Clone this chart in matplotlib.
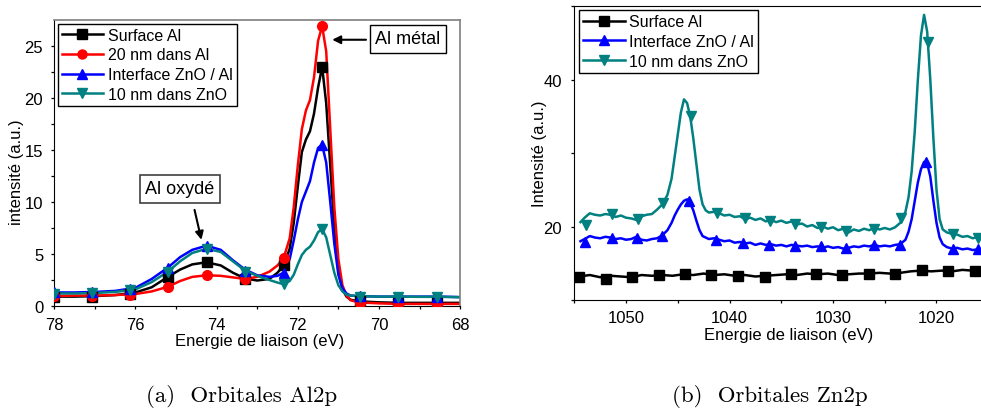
import numpy as np
import matplotlib
matplotlib.use('Agg')
import matplotlib.pyplot as plt

plt.rcParams['font.family'] = ['Liberation Sans', 'DejaVu Sans']

#####---data---#####

# (a) Al2p
al_x = [78.0, 77.5, 77.0, 76.5, 76.0, 75.6, 75.2, 74.9, 74.6, 74.25, 73.9, 73.6, 73.3, 73.0,
        72.7, 72.5, 72.35, 72.2, 72.1, 72.0, 71.9, 71.8, 71.7, 71.6, 71.5, 71.4, 71.3, 71.2,
        71.1, 71.0, 70.9, 70.8, 70.7, 70.5, 70.0, 69.5, 69.0, 68.5, 68.0]
al_surface = [0.9, 0.9, 0.95, 1.05, 1.3, 1.8, 2.8, 3.5, 4.0, 4.2, 3.9, 3.2, 2.65, 2.45,
              2.6, 3.2, 3.9, 5.5, 8.0, 11.5, 14.8, 16.0, 16.8, 18.5, 21.0, 23.0, 19.5, 13.5,
              7.5, 3.3, 1.6, 0.9, 0.6, 0.45, 0.35, 0.3, 0.3, 0.3, 0.3]
al_20nm = [0.95, 1.0, 1.0, 1.05, 1.15, 1.4, 1.85, 2.4, 2.8, 2.95, 2.9, 2.75, 2.6, 2.8,
           3.3, 3.9, 4.6, 6.5, 9.5, 13.5, 17.0, 18.8, 19.8, 22.0, 25.5, 26.9, 24.5, 17.0,
           9.5, 4.5, 2.0, 1.0, 0.55, 0.35, 0.25, 0.2, 0.2, 0.2, 0.2]
al_interface = [1.3, 1.3, 1.35, 1.45, 1.75, 2.6, 3.7, 4.7, 5.4, 5.8, 5.4, 4.4, 3.5, 2.95,
                2.8, 2.9, 3.2, 4.5, 6.3, 8.3, 10.0, 11.0, 12.0, 13.8, 15.2, 15.5, 13.8, 10.0,
                6.0, 3.0, 1.7, 1.2, 1.0, 0.95, 0.9, 0.9, 0.9, 0.9, 0.85]
al_10nm = [1.2, 1.2, 1.25, 1.35, 1.6, 2.3, 3.3, 4.3, 5.1, 5.5, 5.2, 4.3, 3.4, 2.9,
           2.5, 2.25, 2.1, 2.4, 3.0, 4.0, 4.9, 5.4, 5.7, 6.3, 7.1, 7.4, 6.6, 4.9,
           3.2, 2.0, 1.4, 1.1, 1.0, 0.95, 0.9, 0.9, 0.88, 0.88, 0.85]

# symbols (Origin puts them every ~0.95 eV)
al_mx = [78.0, 77.07, 76.13, 75.19, 74.24, 73.30, 72.35, 71.41, 70.46, 69.52, 68.58]
al_m_surface = [0.9, 0.9, 1.2, 2.8, 4.2, 2.6, 3.9, 23.0, 0.45, 0.3, 0.3]
al_m_20nm = [0.95, 1.0, 1.1, 1.85, 2.95, 2.6, 4.6, 26.9, 0.3, 0.2, 0.2]
al_m_interface = [1.3, 1.35, 1.65, 3.7, 5.8, 3.4, 3.2, 15.5, 1.0, 0.9, 0.9]
al_m_10nm = [1.2, 1.25, 1.5, 3.3, 5.5, 3.3, 2.1, 7.4, 0.9, 0.85, 0.85]

# (b) Zn2p
zn_x = [1054.4, 1054.0, 1053.5, 1053.0, 1052.5, 1052.0, 1051.5, 1051.0, 1050.5, 1050.0,
        1049.5, 1049.0, 1048.5, 1048.0, 1047.5, 1047.0, 1046.5, 1046.0, 1045.6, 1045.3,
        1045.0, 1044.7, 1044.4, 1044.1, 1043.8, 1043.5, 1043.2, 1042.9, 1042.6, 1042.3,
        1042.0, 1041.5, 1041.0, 1040.5, 1040.0, 1039.5, 1039.0, 1038.5, 1038.0, 1037.5,
        1037.0, 1036.5, 1036.0, 1035.5, 1035.0, 1034.5, 1034.0, 1033.5, 1033.0, 1032.5,
        1032.0, 1031.5, 1031.0, 1030.5, 1030.0, 1029.5, 1029.0, 1028.5, 1028.0, 1027.5,
        1027.0, 1026.5, 1026.0, 1025.5, 1025.0, 1024.5, 1024.0, 1023.5, 1023.0, 1022.7,
        1022.4, 1022.1, 1021.8, 1021.5, 1021.2, 1020.9, 1020.6, 1020.3, 1020.0, 1019.7,
        1019.4, 1019.0, 1018.5, 1018.0, 1017.5, 1017.0, 1016.5, 1016.0, 1015.5]
zn_10nm = [20.6, 21.2, 21.8, 21.6, 21.5, 21.7, 21.6, 21.3, 21.5, 21.2,
           21.1, 20.9, 21.4, 21.6, 21.7, 22.3, 23.0, 24.3, 26.5, 29.5,
           32.5, 35.5, 37.3, 36.8, 35.0, 32.0, 28.5, 25.0, 23.0, 22.2,
           21.9, 22.0, 21.8, 21.5, 21.6, 21.3, 21.4, 21.0, 21.2, 20.9,
           21.1, 20.7, 20.9, 20.6, 20.8, 20.5, 20.7, 20.3, 20.4, 20.0,
           20.2, 19.8, 20.0, 19.7, 19.9, 19.5, 19.7, 19.2, 19.6, 19.4,
           19.7, 19.5, 19.8, 19.6, 19.8, 19.6, 19.9, 20.5, 22.0, 24.0,
           27.5, 33.0, 40.0, 46.0, 48.8, 46.5, 40.0, 32.0, 25.0, 21.0,
           19.6, 19.2, 19.0, 18.9, 18.6, 18.7, 18.4, 18.6, 18.4]
zn_interface = [18.0, 18.3, 18.7, 18.5, 18.4, 18.6, 18.5, 18.3, 18.4, 18.2,
                18.3, 18.6, 18.2, 18.1, 18.3, 18.4, 18.8, 19.5, 20.5, 21.5,
                22.3, 23.0, 23.5, 23.7, 23.2, 22.2, 20.8, 19.5, 18.7, 18.5,
                18.3, 18.4, 18.2, 18.0, 18.1, 17.8, 17.9, 17.7, 17.8, 17.5,
                17.7, 17.5, 17.6, 17.4, 17.5, 17.3, 17.5, 17.4, 17.3, 17.4,
                17.2, 17.3, 17.1, 17.3, 17.1, 17.2, 17.0, 17.1, 17.3, 17.2,
                17.4, 17.3, 17.5, 17.3, 17.4, 17.3, 17.5, 17.6, 18.2, 19.3,
                21.0, 23.5, 26.0, 27.8, 28.8, 28.6, 26.8, 23.5, 20.5, 18.5,
                17.6, 17.2, 17.0, 17.1, 16.9, 17.0, 16.8, 16.9, 16.8]
zn_sx = [1054.5, 1053.5, 1052.5, 1051.5, 1050.5, 1049.5, 1048.5, 1047.5, 1046.5, 1045.5,
         1044.5, 1043.5, 1042.5, 1041.5, 1040.5, 1039.5, 1038.5, 1037.5, 1036.5, 1035.5,
         1034.5, 1033.5, 1032.5, 1031.5, 1030.5, 1029.5, 1028.5, 1027.5, 1026.5, 1025.5,
         1024.5, 1023.5, 1022.5, 1021.5, 1020.5, 1019.5, 1018.5, 1017.5, 1016.5, 1015.5]
zn_surface = [13.2, 13.4, 13.1, 13.3, 13.2, 13.1, 13.4, 13.3, 13.4, 13.3,
              13.5, 13.4, 13.6, 13.4, 13.5, 13.3, 13.4, 13.2, 13.3, 13.4,
              13.5, 13.4, 13.6, 13.5, 13.6, 13.4, 13.5, 13.6, 13.6, 13.7,
              13.6, 13.7, 13.9, 14.0, 13.9, 14.0, 13.9, 14.1, 14.0, 13.9]

zn_m_surface_x = [1054.5, 1051.9, 1049.4, 1046.8, 1044.3, 1041.8, 1039.2, 1036.6,
                  1034.1, 1031.6, 1029.1, 1026.5, 1024.0, 1021.4, 1018.9, 1016.3]
zn_m_surface = [13.2, 12.9, 13.1, 13.4, 13.5, 13.4, 13.3, 13.2,
                13.5, 13.6, 13.4, 13.6, 13.6, 14.1, 13.9, 13.9]
zn_m_interface_x = [1054.0, 1051.4, 1048.9, 1046.5, 1043.9, 1041.3, 1038.7, 1036.2,
                    1033.7, 1031.2, 1028.7, 1026.0, 1023.5, 1021.0, 1018.4, 1016.0]
zn_m_interface = [17.9, 18.4, 18.5, 18.7, 23.5, 18.2, 17.7, 17.5,
                  17.4, 17.3, 17.1, 17.5, 17.5, 28.8, 17.0, 16.9]
zn_m_10nm_x = [1053.9, 1051.4, 1048.8, 1046.4, 1043.7, 1041.2, 1038.5, 1036.1,
               1033.7, 1031.2, 1028.7, 1026.0, 1023.4, 1020.8, 1018.4, 1016.0]
zn_m_10nm = [20.2, 21.7, 21.0, 23.2, 35.1, 21.9, 21.1, 20.8,
             20.3, 19.9, 19.4, 19.6, 21.2, 45.1, 19.0, 18.4]

black, red, blue, teal = '#000000', '#ff0000', '#0000ff', '#008080'


def draw_series(ax, x, y, mx, my, color, marker, label):
    ax.plot(x, y, color=color, lw=1.8, zorder=2)
    ax.plot(mx, my, ls='none', marker=marker, ms=7, color=color, zorder=3)
    # legend entry: line + symbol
    ax.plot([], [], color=color, lw=1.8, marker=marker, ms=6.5, label=label)


def style_axes(ax, xpad, ypad):
    ax.tick_params(which='both', direction='out', top=False, right=False,
                   labelsize=12, color='black')
    ax.tick_params(axis='x', which='both', pad=xpad)
    ax.tick_params(axis='y', which='both', pad=ypad)
    ax.tick_params(which='major', length=2.5, width=0.9)
    ax.tick_params(which='minor', length=2.0, width=0.9)


fig = plt.figure(figsize=(9.81, 4.14), dpi=100)

#####---(a) Orbitales Al2p---#####
ax1 = fig.add_axes([0.0554, 0.2585, 0.4136, 0.6908])
draw_series(ax1, al_x, al_surface, al_mx, al_m_surface, black, 's', 'Surface Al')
draw_series(ax1, al_x, al_20nm, al_mx, al_m_20nm, red, 'o', '20 nm dans Al')
draw_series(ax1, al_x, al_interface, al_mx, al_m_interface, blue, '^', 'Interface ZnO / Al')
draw_series(ax1, al_x, al_10nm, al_mx, al_m_10nm, teal, 'v', '10 nm dans ZnO')

ax1.set_xlim(78, 68)
ax1.set_ylim(0, 27.5)
ax1.set_xticks([78, 76, 74, 72, 70, 68])
ax1.set_xticks([77, 75, 73, 71, 69], minor=True)
ax1.set_yticks([0, 5, 10, 15, 20, 25])
ax1.set_yticks([2.5, 7.5, 12.5, 17.5, 22.5], minor=True)
style_axes(ax1, 5.5, 5.5)
for s in ['top', 'right']:
    ax1.spines[s].set_color('#7f7f7f')
    ax1.spines[s].set_linewidth(1.2)
ax1.set_xlabel('Energie de liaison (eV)', fontsize=12)
ax1.xaxis.set_label_coords(0.505, -0.096)
ax1.set_ylabel('intensité (a.u.)', fontsize=12)
ax1.yaxis.set_label_coords(-0.074, 0.472)

leg1 = ax1.legend(loc='upper left', bbox_to_anchor=(0.008, 0.987), fontsize=11.5, frameon=True,
                  fancybox=False, edgecolor='black', framealpha=1, handlelength=2.6,
                  handletextpad=0.3, labelspacing=0.3, borderpad=0.25, borderaxespad=0.0)
leg1.get_frame().set_linewidth(1.0)

ax1.text(69.29, 25.7, 'Al métal', fontsize=13, ha='center', va='center',
         bbox=dict(boxstyle='square,pad=0.3', fc='white', ec='black', lw=1.0))
ax1.annotate('', xy=(71.22, 25.6), xytext=(70.25, 25.6),
             arrowprops=dict(arrowstyle='-|>', color='black', lw=1.5, mutation_scale=12))
ax1.text(74.91, 11.25, 'Al oxydé', fontsize=13, ha='center', va='center',
         bbox=dict(boxstyle='square,pad=0.3', fc='white', ec='#404040', lw=1.2))
ax1.annotate('', xy=(74.36, 6.1), xytext=(74.56, 9.5),
             arrowprops=dict(arrowstyle='-|>', color='black', lw=1.5, mutation_scale=12))

#####---(b) Orbitales Zn2p---#####
ax2 = fig.add_axes([0.5854, 0.2729, 0.4146, 0.7101])
draw_series(ax2, zn_sx, zn_surface, zn_m_surface_x, zn_m_surface, black, 's', 'Surface Al')
draw_series(ax2, zn_x, zn_interface, zn_m_interface_x, zn_m_interface, blue, '^', 'Interface ZnO / Al')
draw_series(ax2, zn_x, zn_10nm, zn_m_10nm_x, zn_m_10nm, teal, 'v', '10 nm dans ZnO')

ax2.set_xlim(1055, 1015.7)
ax2.set_ylim(10, 50)
ax2.set_xticks([1050, 1040, 1030, 1020])
ax2.set_xticks([1055, 1045, 1035, 1025], minor=True)
ax2.set_yticks([20, 40])
ax2.set_yticks([10, 30, 50], minor=True)
style_axes(ax2, 5, 6.5)
ax2.spines['right'].set_visible(False)
ax2.set_xlabel('Energie de liaison (eV)', fontsize=12)
ax2.xaxis.set_label_coords(0.527, -0.092)
ax2.set_ylabel('Intensité (a.u.)', fontsize=12)
ax2.yaxis.set_label_coords(-0.067, 0.50)

leg2 = ax2.legend(loc='upper left', bbox_to_anchor=(0.012, 0.986), fontsize=11.5, frameon=True,
                  fancybox=False, edgecolor='black', framealpha=1, handlelength=2.6,
                  handletextpad=0.3, labelspacing=0.3, borderpad=0.25, borderaxespad=0.0)
leg2.get_frame().set_linewidth(1.0)

# sub-captions
fig.text(242 / 981, 1 - 397 / 414, '(a)  Orbitales Al2p', family='cmr10', fontsize=16.5,
         ha='center', va='center')
fig.text(770 / 981, 1 - 397 / 414, '(b)  Orbitales Zn2p', family='cmr10', fontsize=16.5,
         ha='center', va='center')

fig.savefig('out.png', dpi=100)
